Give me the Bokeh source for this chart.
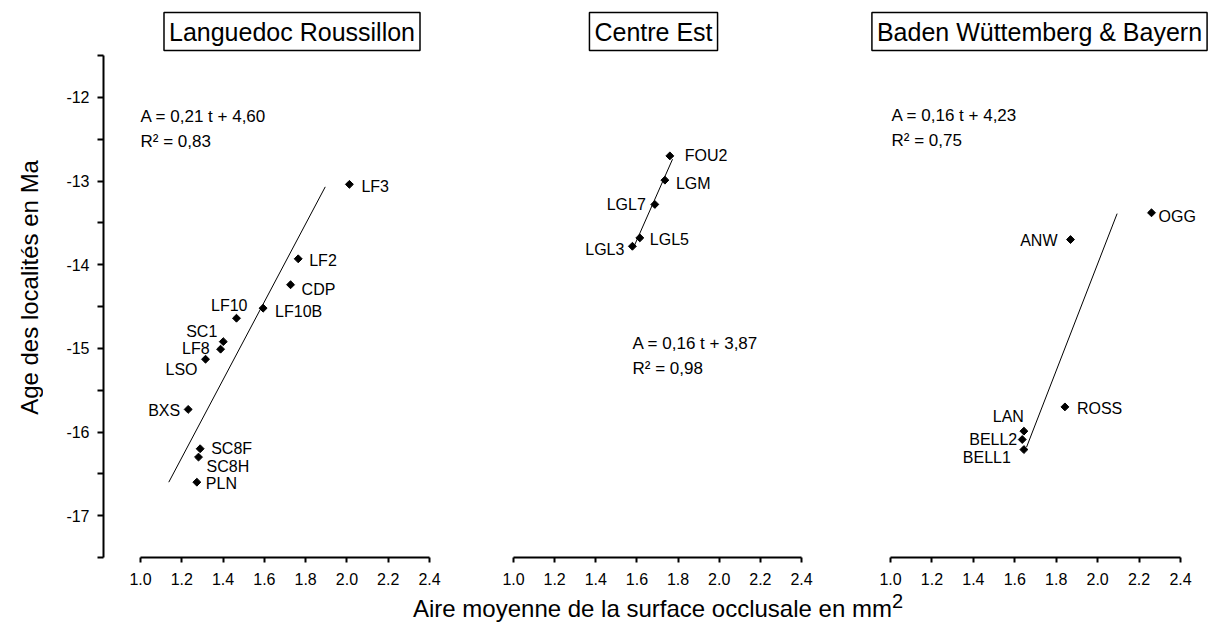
import math
from bokeh.plotting import figure
from bokeh.models import Range1d, FixedTicker, PrintfTickFormatter, Label, ColumnDataSource, Div
from bokeh.layouts import row, column
from bokeh.embed import file_html
from bokeh.resources import INLINE
from bokeh.core.properties import value

# ---------------- data ----------------
x_ticks = [1.0, 1.2, 1.4, 1.6, 1.8, 2.0, 2.2, 2.4]
y_ticks = [-17, -16, -15, -14, -13, -12]
y_minor = [-17.5, -16.5, -15.5, -14.5, -13.5, -12.5, -11.5]
y_tick_labels = {-17: "-17", -16: "-16", -15: "-15", -14: "-14", -13: "-13", -12: "-12"}

lr_title = "Languedoc Roussillon"
lr_names = ["LF3", "LF2", "CDP", "LF10B", "LF10", "SC1", "LF8", "LSO", "BXS", "SC8F", "SC8H", "PLN"]
lr_area = [2.012, 1.764, 1.727, 1.594, 1.465, 1.401, 1.388, 1.315, 1.231, 1.289, 1.281, 1.273]
lr_age = [-13.04, -13.93, -14.24, -14.52, -14.64, -14.92, -15.01, -15.13, -15.73, -16.20, -16.30, -16.60]
lr_fit_area = [1.137, 1.895]
lr_fit_age = [-16.60, -13.07]
lr_eq = ["A = 0,21 t + 4,60", "R\u00b2 = 0,83"]

ce_title = "Centre Est"
ce_names = ["FOU2", "LGM", "LGL7", "LGL5", "LGL3"]
ce_area = [1.760, 1.736, 1.687, 1.614, 1.578]
ce_age = [-12.70, -12.99, -13.28, -13.68, -13.78]
ce_fit_area = [1.588, 1.773]
ce_fit_age = [-13.77, -12.74]
ce_eq = ["A = 0,16 t + 3,87", "R\u00b2 = 0,98"]

bw_title = "Baden W\u00fcttemberg & Bayern"
bw_names = ["OGG", "ANW", "ROSS", "LAN", "BELL2", "BELL1"]
bw_area = [2.260, 1.869, 1.842, 1.644, 1.636, 1.644]
bw_age = [-13.38, -13.70, -15.70, -15.99, -16.09, -16.21]
bw_fit_area = [1.657, 2.094]
bw_fit_age = [-16.18, -13.39]
bw_eq = ["A = 0,16 t + 4,23", "R\u00b2 = 0,75"]

y_title = "Age des localit\u00e9s en Ma"
x_title_html = ('Aire moyenne de la surface occlusale en mm'
                '<sup style="font-size:20px;line-height:0;vertical-align:9px">2</sup>')

# ---------------- layout (pixels, page coordinates) ----------------
FONT = "Liberation Sans"
FRAME_TOP = 0
FRAME_BOTTOM = 557
PX_Y_TOP = 55            # page y of -11.5
PX_PER_UNIT_Y = (FRAME_BOTTOM - PX_Y_TOP) / 6.0
FIG_H = 594
YT_W = 43                # width of the strip holding the y title

# label placement (pixel offsets, alignment)
lr_dx = [12, 11, 11, 12, 11, -6, -11, -8, -8, 11, 8, 9]
lr_dy = [2, 2, 5, 3, -13, -10, -1, 10, 1, 0, 9, 1]
lr_al = ["left", "left", "left", "left", "right", "right", "right", "right", "right", "left", "left", "left"]
ce_dx = [15, 11, -9, 10, -8]
ce_dy = [0, 3, 0, 2, 3]
ce_al = ["left", "left", "right", "left", "right"]
bw_dx = [7, -13, 12, 0, -5, -13]
bw_dy = [4, 1, 2, -15, 0, 8]
bw_al = ["left", "right", "left", "right", "right", "right"]


def yval(py):
    return -11.5 + (PX_Y_TOP - py) / PX_PER_UNIT_Y


def make_panel(title, names, area, age, fit_area, fit_age, eq, dx, dy, al,
               fig_l, frame_l, frame_r, px10, px24, title_cx, eq_px, eq_py, first):
    s = 1.4 / (px24 - px10)
    xs = 1.0 - (px10 - frame_l) * s
    xe = 2.4 + (frame_r - px24) * s
    ys = -17.5
    ye = yval(FRAME_TOP)
    left_border = frame_l - fig_l
    width = frame_r - fig_l
    p = figure(width=width, height=FIG_H, x_range=Range1d(xs, xe), y_range=Range1d(ys, ye),
               output_backend="svg", toolbar_location=None,
               y_axis_location="left" if first else None,
               min_border_left=left_border, min_border_right=0, min_border_top=0,
               min_border_bottom=FIG_H - (FRAME_BOTTOM - FRAME_TOP))
    p.outline_line_color = None
    p.xgrid.grid_line_color = None
    p.ygrid.grid_line_color = None
    p.background_fill_color = "white"
    p.border_fill_color = "white"

    ax = p.xaxis[0]
    ax.bounds = (1.0, 2.4)
    ax.ticker = FixedTicker(ticks=x_ticks, minor_ticks=[])
    ax.formatter = PrintfTickFormatter(format="%.1f")
    ax.axis_line_width = 2
    ax.axis_line_color = "black"
    ax.major_tick_line_width = 2
    ax.major_tick_out = 5
    ax.major_tick_in = 0
    ax.minor_tick_out = 0
    ax.minor_tick_in = 0
    ax.major_label_standoff = 10
    ax.major_label_text_font = FONT
    ax.major_label_text_font_size = "16px"
    ax.major_label_text_color = "black"

    if first:
        ay = p.yaxis[0]
        ay.bounds = (-17.5, -11.5)
        ay.ticker = FixedTicker(ticks=y_ticks, minor_ticks=y_minor)
        ay.major_label_overrides = y_tick_labels
        ay.axis_line_width = 2
        ay.major_tick_line_width = 2
        ay.minor_tick_line_width = 2
        ay.major_tick_out = 6
        ay.minor_tick_out = 6
        ay.major_tick_in = 0
        ay.minor_tick_in = 0
        ay.major_label_standoff = 8
        ay.major_label_text_font = FONT
        ay.major_label_text_font_size = "16px"
        ay.major_label_text_color = "black"

    # regression line
    p.line(fit_area, fit_age, line_color="black", line_width=1)

    # points
    src = ColumnDataSource(dict(x=area, y=age, name=names, dx=dx, dy=dy, al=al))
    p.scatter("x", "y", source=src, marker="square", angle=math.pi / 4, size=5.6,
              fill_color="black", line_color="black")
    p.text("x", "y", text="name", source=src, x_offset="dx", y_offset="dy",
           text_align="al", text_baseline="middle", text_font=value(FONT),
           text_font_size="16px", text_color="black")

    # title box
    p.add_layout(Label(x=1.0 + (title_cx - px10) * s, y=yval(31), text=title,
                       text_align="center", text_baseline="middle", text_font=FONT,
                       text_font_size="25px", text_color="black",
                       border_line_color="black", border_line_width=1.5,
                       background_fill_color="white", padding=5))

    # equation
    ex = 1.0 + (eq_px - px10) * s
    p.add_layout(Label(x=ex, y=yval(eq_py), text=eq[0], text_align="left",
                       text_baseline="middle", text_font=FONT, text_font_size="17px",
                       text_color="black"))
    p.add_layout(Label(x=ex, y=yval(eq_py + 25), text=eq[1], text_align="left",
                       text_baseline="middle", text_font=FONT, text_font_size="17px",
                       text_color="black"))
    return p


# strip with the y-axis title
pt = figure(width=YT_W, height=FIG_H, x_range=Range1d(0, YT_W), y_range=Range1d(FIG_H, 0),
            output_backend="svg", toolbar_location=None,
            x_axis_location=None, y_axis_location=None, min_border=0)
pt.grid.visible = False
pt.outline_line_color = None
pt.add_layout(Label(x=29, y=(PX_Y_TOP + FRAME_BOTTOM) / 2, text=y_title, angle=math.pi / 2,
                    text_align="center", text_baseline="middle", text_font=FONT,
                    text_font_size="24px", text_color="black"))

p1 = make_panel(lr_title, lr_names, lr_area, lr_age, lr_fit_area, lr_fit_age, lr_eq,
                lr_dx, lr_dy, lr_al, YT_W, 103, 455, 140, 429, 291.5, 140, 116, True)
p2 = make_panel(ce_title, ce_names, ce_area, ce_age, ce_fit_area, ce_fit_age, ce_eq,
                ce_dx, ce_dy, ce_al, 455, 455, 840, 513, 801, 653, 632, 343, False)
p3 = make_panel(bw_title, bw_names, bw_area, bw_age, bw_fit_area, bw_fit_age, bw_eq,
                bw_dx, bw_dy, bw_al, 840, 840, 1212, 890, 1180, 1039, 891, 115, False)

xt = Div(text=x_title_html, width=640, height=28, margin=(0, 0, 0, 413),
         styles={"font-family": "'Liberation Sans', Arial, sans-serif", "font-size": "24px",
                 "line-height": "30px", "color": "black", "white-space": "nowrap"})

layout = column(row(pt, p1, p2, p3, spacing=0), xt, spacing=0)

with open("out.html", "w") as f:
    f.write(file_html(layout, INLINE))
